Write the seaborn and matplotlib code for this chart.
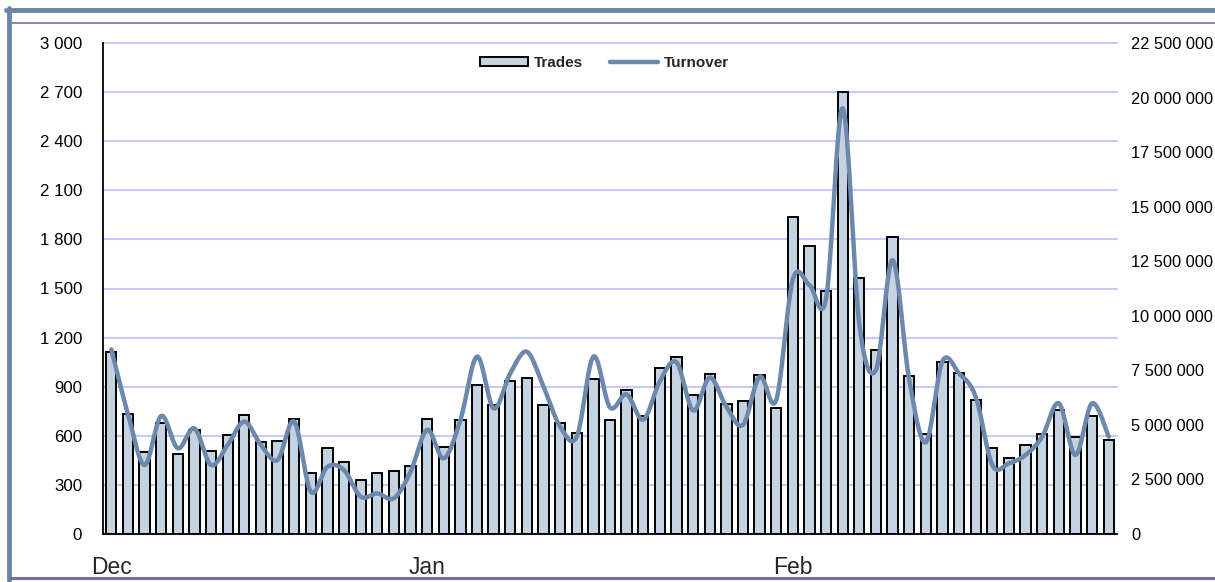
import numpy as np
import pandas as pd
import matplotlib
matplotlib.use("Agg")
import matplotlib.pyplot as plt
import seaborn as sns
from matplotlib.lines import Line2D
from matplotlib.patches import Patch
from matplotlib.ticker import FuncFormatter, MultipleLocator

# ---- data ----
trades = [1110, 733, 500, 680, 490, 635, 509, 605, 727, 564,
          570, 704, 371, 527, 442, 328, 372, 387, 418, 700,
          529, 696, 910, 788, 937, 951, 788, 680, 619, 945,
          696, 880, 720, 1012, 1083, 849, 977, 794, 814, 971,
          772, 1938, 1759, 1486, 2698, 1562, 1126, 1816, 963, 611,
          1049, 985, 819, 523, 466, 544, 611, 757, 594, 721,
          574]
turnover_m = [8.46, 5.5, 3.16, 5.41, 3.93, 4.84, 3.16, 4.08, 5.15, 4.08,
              3.39, 5.15, 1.94, 3.08, 2.93, 1.71, 1.86, 1.64, 2.85, 4.77,
              3.47, 5.22, 8.13, 5.76, 7.36, 8.35, 6.75, 4.92, 4.46, 8.13,
              5.8, 6.4, 5.24, 7.0, 7.87, 5.66, 7.17, 5.83, 5.0, 7.21,
              6.14, 11.67, 11.41, 10.80, 19.51, 9.6, 7.52, 12.55, 7.06, 4.2,
              7.92, 7.36, 6.29, 3.16, 3.24, 3.62, 4.46, 5.99, 3.62, 5.99,
              4.46]
month_labels = ["Dec", "Jan", "Feb"]
month_pos = [0, 19, 41]

turnover = np.array(turnover_m) * 1e6
n = len(trades)
df = pd.DataFrame({"idx": np.arange(n), "Trades": trades, "Turnover": turnover})

# smoothed line (Bezier through the points, as Excel's smoothed line)
def catmull(x, y, steps=20):
    x = np.asarray(x, float); y = np.asarray(y, float)
    px = np.concatenate([[x[0]], x, [x[-1]]])
    py = np.concatenate([[y[0]], y, [y[-1]]])
    xs, ys = [], []
    t = np.linspace(0, 1, steps, endpoint=False)
    for i in range(1, len(px) - 2):
        p0, p1, p2, p3 = py[i-1], py[i], py[i+1], py[i+2]
        q0, q1, q2, q3 = px[i-1], px[i], px[i+1], px[i+2]
        b1y = p1 + (p2 - p0) / 6; b2y = p2 - (p3 - p1) / 6
        b1x = q1 + (q2 - q0) / 6; b2x = q2 - (q3 - q1) / 6
        ys.append((1-t)**3*p1 + 3*(1-t)**2*t*b1y + 3*(1-t)*t**2*b2y + t**3*p2)
        xs.append((1-t)**3*q1 + 3*(1-t)**2*t*b1x + 3*(1-t)*t**2*b2x + t**3*q2)
    xs.append([x[-1]]); ys.append([y[-1]])
    return np.concatenate(xs), np.concatenate(ys)

sx, sy = catmull(df["idx"], df["Turnover"])
line_df = pd.DataFrame({"x": sx, "y": sy})

sns.set_theme(style="white")
plt.rcParams["font.family"] = ["Liberation Sans", "DejaVu Sans"]

fig = plt.figure(figsize=(12.15, 5.82), dpi=100)
ax = fig.add_axes([103/1215, 48/582, 1014/1215, 491/582])

bar_color = "#C5D3E0"
line_color = "#6C88AC"
grid_color = "#C8C8FA"

sns.barplot(data=df, x="idx", y="Trades", ax=ax, color=bar_color, saturation=1,
            width=0.62, edgecolor="black", linewidth=1.4, zorder=2)
ax.set_xlim(-0.5, n - 0.5)
ax.set_ylim(0, 3000)
ax.yaxis.set_major_locator(MultipleLocator(300))
fmt = FuncFormatter(lambda v, p: f"{int(round(v)):,}".replace(",", " "))
ax.yaxis.set_major_formatter(fmt)
ax.grid(axis="y", color=grid_color, linewidth=1.5)
ax.set_axisbelow(True)
ax.set_xticks(month_pos)
ax.set_xticklabels(month_labels, fontsize=16.5)
ax.tick_params(axis="x", length=0, pad=16)
ax.tick_params(axis="y", length=0, pad=15, labelsize=12.2, colors="black")
ax.set_xlabel(""); ax.set_ylabel("")
for s in ["top", "right"]:
    ax.spines[s].set_visible(False)
for s in ["left", "bottom"]:
    ax.spines[s].set_color("black"); ax.spines[s].set_linewidth(1.3)
fig.canvas.draw()
for gl in ax.get_ygridlines():
    gl.set_clip_on(False)

ax2 = ax.twinx()
sns.lineplot(data=line_df, x="x", y="y", ax=ax2, color=line_color, linewidth=3.2,
             sort=False, estimator=None)
ax2.set_ylim(0, 22.5e6)
ax2.yaxis.set_major_locator(MultipleLocator(2.5e6))
ax2.yaxis.set_major_formatter(fmt)
ax2.tick_params(axis="y", length=0, pad=10, labelsize=11.8, colors="black")
ax2.set_ylabel("")
for s in ax2.spines.values():
    s.set_visible(False)
ax2.grid(False)

handles = [Patch(facecolor=bar_color, edgecolor="black", linewidth=1.4),
           Line2D([0], [0], color=line_color, linewidth=3.2)]
leg = ax2.legend(handles, ["Trades", "Turnover"], loc="center", bbox_to_anchor=(0.4946, 0.959),
                 ncol=2, frameon=False, prop={"weight": "bold", "size": 11},
                 handlelength=3.1, handleheight=0.55, handletextpad=0.4, columnspacing=1.8)

# outer frame decoration
frame_col = "#6B87A8"
thin_col = "#7474A2"
fig.add_artist(Line2D([6/1215, 1], [1 - 9.5/582, 1 - 9.5/582], color=frame_col, linewidth=3.5,
                      transform=fig.transFigure))
fig.add_artist(Line2D([11/1215, 1], [1 - 22.5/582, 1 - 22.5/582], color=thin_col, linewidth=1.2,
                      transform=fig.transFigure))
fig.add_artist(Line2D([8.5/1215, 8.5/1215], [1 - 8/582, 1 - 580/582], color=frame_col, linewidth=3.5,
                      transform=fig.transFigure))
fig.add_artist(Line2D([10/1215, 1], [1 - 578/582, 1 - 578/582], color=thin_col, linewidth=2.2,
                      transform=fig.transFigure))

fig.savefig("out.png", dpi=100)
